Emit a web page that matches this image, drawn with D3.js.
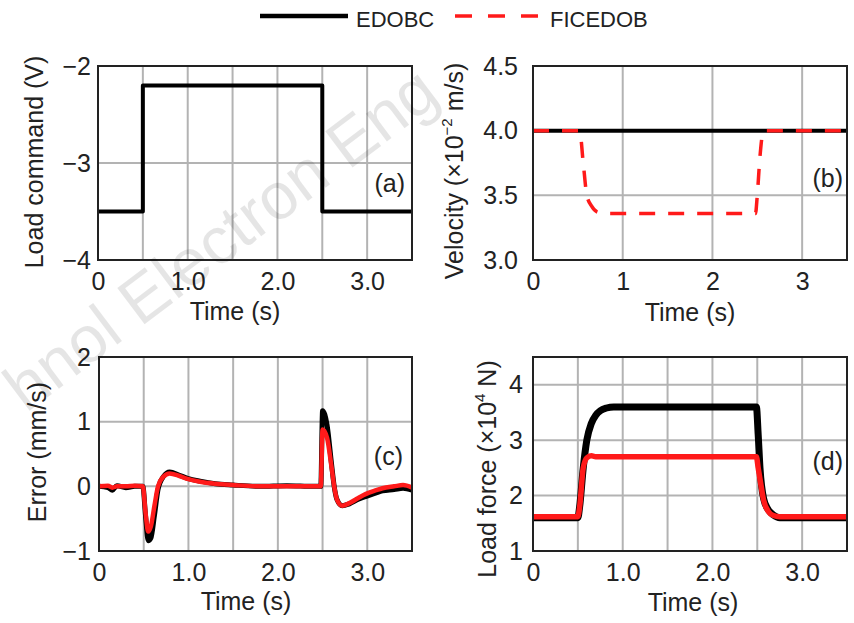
<!DOCTYPE html>
<html>
<head>
<meta charset="utf-8">
<script src="https://cdn.jsdelivr.net/npm/d3@7"></script>
<style>
  body { margin: 0; background: #fff; }
  svg text { font-family: "Liberation Sans", Arial, sans-serif; fill: #222; }
</style>
</head>
<body>
<div id="chart"></div>
<script>
// ---- data ----
const seriesNames = ["EDOBC", "FICEDOB"];

// (a) load command
const timeCmd = [0, 0.5, 0.5, 2.5, 2.5, 3.5];
const loadCmd = [-3.5, -3.5, -2.2, -2.2, -3.5, -3.5];

// (b) velocity (x10^-2 m/s)
const timeVelEDOBC = [0, 3.5];
const velEDOBC = [4.0, 4.0];
const timeVelFICEDOB = [0, 0.52, 0.56, 0.6, 0.65, 0.72, 0.8, 2.48, 2.5, 2.53, 2.57, 3.5];
const velFICEDOB = [4.0, 4.0, 3.75, 3.5, 3.42, 3.37, 3.36, 3.36, 3.5, 3.8, 4.0, 4.0];

// (c) tracking error (mm/s)
const timeErr = [0, 0.1, 0.15, 0.2, 0.3, 0.4, 0.49, 0.52, 0.55, 0.58, 0.62, 0.66, 0.72, 0.79, 0.9, 1.0, 1.13, 1.3, 1.5, 1.8, 2.1, 2.4, 2.48, 2.5, 2.55, 2.6, 2.63, 2.66, 2.72, 2.8, 2.9, 2.98, 3.1, 3.17, 3.3, 3.4, 3.5];
const errEDOBC = [0, -0.02, -0.06, 0.01, -0.02, 0, 0, -0.45, -0.84, -0.8, -0.45, -0.05, 0.15, 0.22, 0.17, 0.12, 0.08, 0.04, 0.02, 0, 0.01, 0, 0, 1.17, 0.95, 0.35, 0, -0.2, -0.3, -0.27, -0.2, -0.16, -0.1, -0.07, -0.05, -0.03, -0.06];
const errFICEDOB = [0, 0.01, -0.02, 0, 0, 0.01, 0, -0.4, -0.7, -0.62, -0.3, 0, 0.15, 0.2, 0.16, 0.11, 0.07, 0.04, 0.02, 0, 0, 0, 0, 0.88, 0.75, 0.3, 0, -0.2, -0.3, -0.26, -0.18, -0.12, -0.06, -0.03, 0, 0.02, -0.02];

// (d) load force (x10^4 N)
const timeForce = [0, 0.3, 0.5, 0.52, 0.56, 0.6, 0.65, 0.7, 0.75, 0.82, 0.9, 1.0, 1.5, 2.0, 2.49, 2.51, 2.53, 2.57, 2.62, 2.68, 2.75, 3.0, 3.5];
const forceEDOBC = [1.6, 1.6, 1.6, 1.8, 2.5, 3.0, 3.3, 3.45, 3.53, 3.58, 3.6, 3.6, 3.6, 3.6, 3.6, 3.1, 2.5, 1.95, 1.75, 1.65, 1.6, 1.6, 1.6];
const forceFICEDOB = [1.62, 1.62, 1.62, 1.8, 2.5, 2.68, 2.72, 2.7, 2.7, 2.7, 2.7, 2.7, 2.7, 2.7, 2.7, 2.5, 2.3, 1.92, 1.72, 1.64, 1.62, 1.62, 1.62];

// ticks
const halfSecondGrid = [0.5, 1, 1.5, 2, 2.5, 3];
const wholeSecondGrid = [1, 2, 3];
const timeTicks = [0, 1, 2, 3];
const timeTickLabelsDec = ["0", "1.0", "2.0", "3.0"];
const timeTickLabelsInt = ["0", "1", "2", "3"];
const cmdTicks = [-4, -3, -2];
const velTicks = [3.0, 3.5, 4.0, 4.5];
const errTicks = [-1, 0, 1, 2];
const forceTicks = [1, 2, 3, 4];

const W = 854, H = 623;
const svg = d3.select("#chart").append("svg")
  .attr("width", W).attr("height", H);

const minus = s => s.replace("-", "\u2212");

function panel(cfg) {
  const x = d3.scaleLinear().domain([0, 3.5]).range([cfg.left, cfg.right]);
  const y = d3.scaleLinear().domain(cfg.yDomain).range([cfg.bottom, cfg.top]);
  const g = svg.append("g");

  // grid
  g.selectAll(".vg").data(cfg.xGrid).join("line")
    .attr("x1", d => x(d)).attr("x2", d => x(d))
    .attr("y1", cfg.top).attr("y2", cfg.bottom)
    .attr("stroke", "#b3b3b3").attr("stroke-width", 2);
  g.selectAll(".hg").data(cfg.yGrid).join("line")
    .attr("y1", d => y(d)).attr("y2", d => y(d))
    .attr("x1", cfg.left).attr("x2", cfg.right)
    .attr("stroke", "#b3b3b3").attr("stroke-width", 2);

  // axes (labels only, frame drawn separately)
  const xa = g.append("g").attr("transform", `translate(0,${cfg.bottom})`)
    .call(d3.axisBottom(x).tickValues(timeTicks)
      .tickFormat((d, i) => cfg.xLabels[i]).tickSize(0).tickPadding(cfg.xPad));
  const ya = g.append("g").attr("transform", `translate(${cfg.left},0)`)
    .call(d3.axisLeft(y).tickValues(cfg.yTicks)
      .tickFormat(cfg.yFormat).tickSize(0).tickPadding(cfg.yPad));
  [xa, ya].forEach(a => {
    a.select(".domain").remove();
    a.selectAll("text").attr("font-size", 25).attr("fill", "#222")
      .style("font-family", '"Liberation Sans", Arial, sans-serif');
  });

  // lines
  cfg.series.forEach(s => {
    const line = d3.line()
      .x((d, i) => x(s.t[i])).y(d => y(d))
      .curve(s.curve || d3.curveLinear);
    g.append("path").datum(s.v)
      .attr("d", line)
      .attr("fill", "none")
      .attr("stroke", s.color)
      .attr("stroke-width", s.width)
      .attr("stroke-dasharray", s.dash || null)
      .attr("stroke-linejoin", "round");
  });

  // frame
  g.append("rect")
    .attr("x", cfg.left).attr("y", cfg.top)
    .attr("width", cfg.right - cfg.left).attr("height", cfg.bottom - cfg.top)
    .attr("fill", "none").attr("stroke", "#222").attr("stroke-width", 2);

  // panel tag
  g.append("text").attr("x", cfg.tag[1]).attr("y", cfg.tag[2])
    .attr("text-anchor", "end").attr("font-size", 25).text(cfg.tag[0]);

  // x label
  g.append("text").attr("x", cfg.xLabelPos[0]).attr("y", cfg.xLabelPos[1])
    .attr("text-anchor", "middle").attr("font-size", 25).text("Time (s)");

  // y label
  const yl = g.append("text")
    .attr("transform", `translate(${cfg.yLabelPos[0]},${cfg.yLabelPos[1]}) rotate(-90)`)
    .attr("text-anchor", "middle").attr("font-size", 25);
  cfg.yLabel.forEach(p => {
    const ts = yl.append("tspan").text(p.text);
    if (p.sup) ts.attr("font-size", 15).attr("dy", -11);
    if (p.after) ts.attr("dy", 11);
  });
}

const red = "#ff1a1a";

panel({
  left: 98, right: 412, top: 66, bottom: 260,
  yDomain: [-4, -2], xGrid: halfSecondGrid, yGrid: [-3],
  xLabels: timeTickLabelsDec, xPad: 12, yTicks: cmdTicks, yPad: 7,
  yFormat: d => minus(String(d)),
  series: [{ t: timeCmd, v: loadCmd, color: "#000", width: 4 }],
  tag: ["(a)", 405, 192],
  xLabelPos: [235, 320],
  yLabelPos: [43, 162],
  yLabel: [{ text: "Load command (V)" }]
});

panel({
  left: 533, right: 847, top: 66, bottom: 260,
  yDomain: [3.0, 4.5], xGrid: wholeSecondGrid, yGrid: [3.5, 4.0],
  xLabels: timeTickLabelsInt, xPad: 12, yTicks: velTicks, yPad: 15,
  yFormat: d3.format(".1f"),
  series: [
    { t: timeVelEDOBC, v: velEDOBC, color: "#000", width: 4 },
    { t: timeVelFICEDOB, v: velFICEDOB, color: red, width: 3.5, dash: "16,13", curve: d3.curveMonotoneX }
  ],
  tag: ["(b)", 843, 187],
  xLabelPos: [690, 321],
  yLabelPos: [463, 171],
  yLabel: [{ text: "Velocity (\u00d710" }, { text: "\u22122", sup: true }, { text: " m/s)", after: true }]
});

panel({
  left: 99, right: 412, top: 357, bottom: 551,
  yDomain: [-1, 2], xGrid: halfSecondGrid, yGrid: [0, 1],
  xLabels: timeTickLabelsDec, xPad: 12, yTicks: errTicks, yPad: 8,
  yFormat: d => minus(String(d)),
  series: [
    { t: timeErr, v: errEDOBC, color: "#000", width: 5, curve: d3.curveMonotoneX },
    { t: timeErr, v: errFICEDOB, color: red, width: 4.5, curve: d3.curveMonotoneX }
  ],
  tag: ["(c)", 403, 465],
  xLabelPos: [246, 610],
  yLabelPos: [46, 452],
  yLabel: [{ text: "Error (mm/s)" }]
});

panel({
  left: 533, right: 847, top: 357, bottom: 551,
  yDomain: [1, 4.5], xGrid: halfSecondGrid, yGrid: [2, 3, 4],
  xLabels: timeTickLabelsDec, xPad: 12, yTicks: forceTicks, yPad: 10,
  yFormat: d => String(d),
  series: [
    { t: timeForce, v: forceEDOBC, color: "#000", width: 7, curve: d3.curveMonotoneX },
    { t: timeForce, v: forceFICEDOB, color: red, width: 5.5, curve: d3.curveMonotoneX }
  ],
  tag: ["(d)", 843, 470],
  xLabelPos: [693, 611],
  yLabelPos: [496, 469],
  yLabel: [{ text: "Load force (\u00d710" }, { text: "4", sup: true }, { text: " N)", after: true }]
});

// legend
const legend = svg.append("g");
legend.append("line").attr("x1", 260).attr("x2", 348).attr("y1", 16).attr("y2", 16)
  .attr("stroke", "#000").attr("stroke-width", 4.5);
legend.append("text").attr("x", 356).attr("y", 27).attr("font-size", 22).text(seriesNames[0]);
legend.append("line").attr("x1", 455).attr("x2", 538).attr("y1", 16).attr("y2", 16)
  .attr("stroke", red).attr("stroke-width", 3.5).attr("stroke-dasharray", "17,16");
legend.append("text").attr("x", 550).attr("y", 27).attr("font-size", 22).text(seriesNames[1]);

// watermark
svg.append("text")
  .attr("transform", "translate(442,100) rotate(-37)")
  .attr("text-anchor", "end")
  .attr("font-size", 66)
  .style("fill", "#000").style("fill-opacity", 0.1)
  .text("hnol Electron Eng");
</script>
</body>
</html>
